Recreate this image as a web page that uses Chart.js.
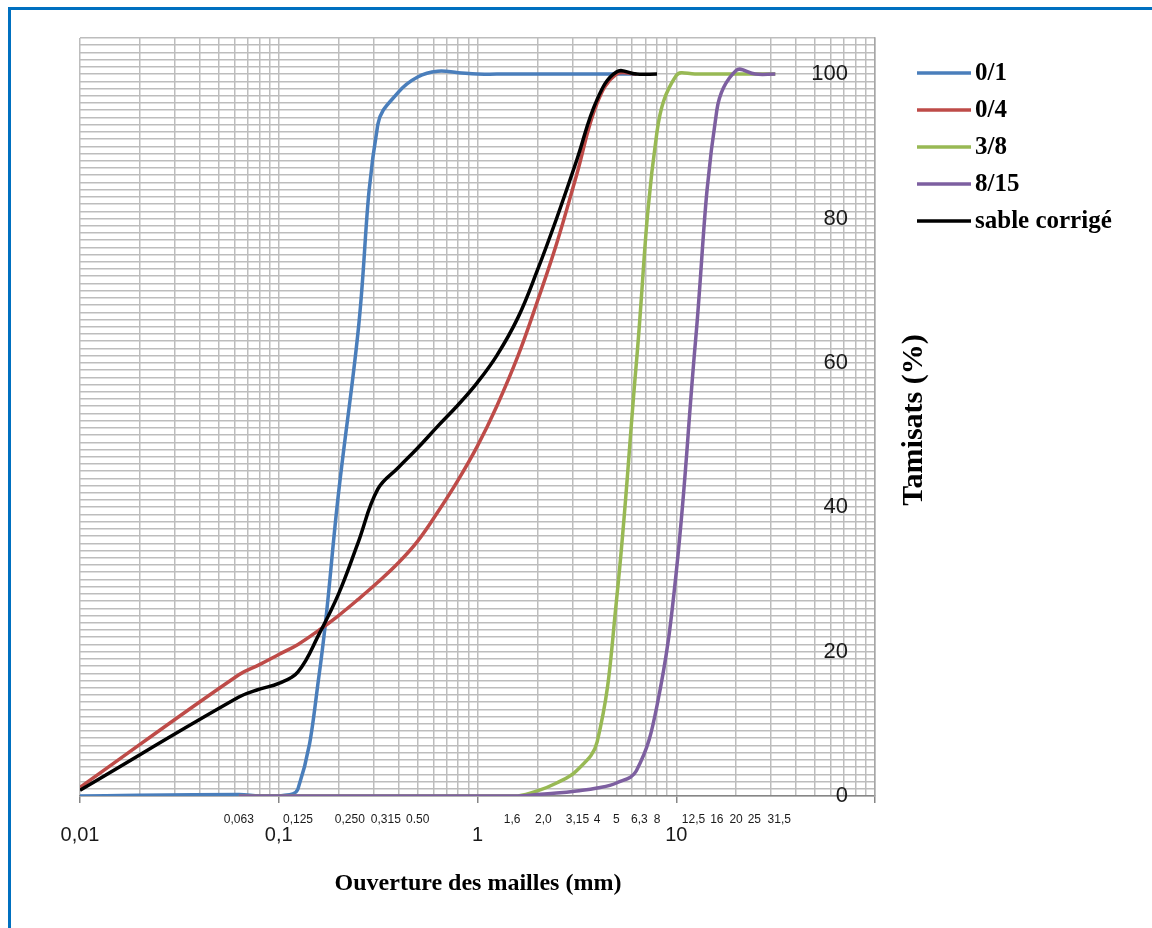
<!DOCTYPE html>
<html>
<head>
<meta charset="utf-8">
<script src="https://cdn.jsdelivr.net/npm/chart.js@4.4.0/dist/chart.umd.min.js"></script>
<style>
  html, body { margin: 0; padding: 0; background: #fff; }
  #wrap { width: 1152px; height: 928px; }
</style>
</head>
<body>
<div id="wrap"><canvas id="courbe" width="1152" height="928"></canvas></div>
<script>
// ouvertures des tamis (mm)
const tamis = [0.01, 0.063, 0.08, 0.1, 0.125, 0.16, 0.2, 0.25, 0.315, 0.4, 0.5, 0.63, 0.8, 1,
               1.25, 1.6, 2, 2.5, 3.15, 4, 5, 6.3, 8, 10, 12.5, 16, 20, 25, 31.5];

// tamisats cumulés (%) par classe granulaire, null = pas de mesure
const sable01 = [0, 0.2, 0, 0, 1, 17, 42, 64, 93, 97.5, 99.6, 100.4, 100.2, 100,
                 100, 100, 100, 100, 100, 100, 100, 100, null, null, null, null, null, null, null];
const sable04 = [1.2, 16.8, 18.2, 19.6, 21, 23, 25, 27.2, 29.6, 32.3, 35.3, 39.3, 43.8, 48.5,
                 54, 61, 68.5, 76.5, 86, 96, 100, 100, null, null, null, null, null, null, null];
const gravier38 = [null, 0, 0, 0, 0, 0, 0, 0, 0, 0, 0, 0, 0, 0,
                   0, 0, 0.7, 1.8, 3.5, 7.5, 27, 60, 92, 99.8, 100, 100, 100, 100, 100];
const gravier815 = [null, 0, 0, 0, 0, 0, 0, 0, 0, 0, 0, 0, 0, 0,
                    0, 0, 0.2, 0.4, 0.7, 1.1, 1.8, 3.5, 12.5, 31, 63, 95, 100.5, 100, 100];
const sableCorrige = [0.8, 13.7, 14.8, 15.6, 17.2, 22.5, 28, 35, 42.5, 45.5, 48.2, 51.2, 54.2, 57.3,
                      61, 66.3, 72.8, 80, 88, 96.5, 100.3, 100, 100, null, null, null, null, null, null];

const series = ['0/1', '0/4', '3/8', '8/15', 'sable corrigé'];
const couleurs = ['#4A7EBB', '#BE4B48', '#98B954', '#7D5FA0', '#000000'];
const valeurs = [sable01, sable04, gravier38, gravier815, sableCorrige];

// graduations de l'axe des abscisses
const decades = [0.01, 0.1, 1, 10];
const decadeLabels = ['0,01', '0,1', '1', '10'];
const xMax = 100;
// ouvertures normalisées écrites sous l'axe
const tamisNoms = ['0,063', '0,125', '0,250', '0,315', '0.50', '1,6', '2,0', '3,15', '4', '5',
                   '6,3', '8', '12,5', '16', '20', '25', '31,5'];
const tamisPos = [0.063, 0.125, 0.25, 0.315, 0.5, 1.6, 2, 3.15, 4, 5, 6.3, 8, 12.5, 16, 20, 25, 31.5];

// graduations de l'axe des ordonnées
const yMin = 0, yMax = 105, yPas = 1, yLabelPas = 20;

// petits decalages pour que les noms ne se chevauchent pas
const decalageNoms = { '0,250': -8, '0,315': 8, '1,6': -6, '2,0': 6, '3,15': 1, '6,3': 3,
                       '12,5': -2, '25': -1, '31,5': 4 };

const datasets = series.map((nom, i) => ({
    label: nom,
    data: tamis.map((t, j) => ({ x: t, y: valeurs[i][j] })),
    borderColor: couleurs[i],
    backgroundColor: couleurs[i],
    borderWidth: 3.5,
    pointRadius: 0,
    tension: 0.4,
    fill: false,
    order: series.length - 1 - i
}));

// Cadre bleu, titres, légende, noms des tamis
const decorPlugin = {
    id: 'decor',
    beforeDraw(chart) {
        const c = chart.ctx;
        c.save();
        c.fillStyle = '#fff';
        c.fillRect(0, 0, chart.width, chart.height);
        c.fillStyle = '#0070C0';
        c.fillRect(8, 7, chart.width - 8, 3);
        c.fillRect(8, 7, 3, chart.height - 7);
        c.restore();
    },
    afterDraw(chart) {
        const c = chart.ctx;
        const xs = chart.scales.x;
        const area = chart.chartArea;
        c.save();
        // noms des tamis
        c.fillStyle = '#1a1a1a';
        c.font = '12px "Liberation Sans", Arial, sans-serif';
        c.textAlign = 'center';
        c.textBaseline = 'middle';
        tamisPos.forEach((v, i) => {
            const nom = tamisNoms[i];
            c.fillText(nom, xs.getPixelForValue(v) + (decalageNoms[nom] || 0), area.bottom + 24);
        });
        // titre axe x
        c.fillStyle = '#000';
        c.font = 'bold 24px "Liberation Serif", "Times New Roman", serif';
        c.fillText('Ouverture des mailles (mm)', 478, 884);
        // titre axe y
        c.save();
        c.translate(914, 420);
        c.rotate(-Math.PI / 2);
        c.font = 'bold 30px "Liberation Serif", "Times New Roman", serif';
        c.fillText('Tamisats (%)', 0, 0);
        c.restore();
        // légende
        c.textAlign = 'left';
        c.font = 'bold 25px "Liberation Serif", "Times New Roman", serif';
        chart.data.datasets.forEach((ds, i) => {
            const y = 73 + i * 37;
            c.strokeStyle = ds.borderColor;
            c.lineWidth = 3.5;
            c.beginPath();
            c.moveTo(917, y);
            c.lineTo(971, y);
            c.stroke();
            c.fillStyle = '#000';
            c.fillText(ds.label, 975, y + 1);
        });
        c.restore();
    }
};

new Chart(document.getElementById('courbe'), {
    type: 'line',
    data: { datasets: datasets },
    options: {
        responsive: false,
        animation: false,
        events: [],
        layout: { padding: { left: 80, top: 38, right: 0, bottom: 0 } },
        plugins: { legend: { display: false }, tooltip: { enabled: false } },
        scales: {
            x: {
                type: 'logarithmic',
                min: decades[0],
                max: xMax,
                afterBuildTicks(scale) {
                    const ticks = [];
                    decades.forEach((d, k) => {
                        for (let m = 1; m <= 9; m++) {
                            ticks.push({ value: d * m, major: m === 1, txt: m === 1 ? decadeLabels[k] : '' });
                        }
                    });
                    ticks.push({ value: xMax, major: true, txt: '' });
                    scale.ticks = ticks;
                },
                afterFit(scale) { scale.height = 132; },
                grid: {
                    color: '#bdbdbd',
                    lineWidth: 1.5,
                    tickLength: 7,
                    tickColor: ctx => (ctx.tick && ctx.tick.major ? '#868686' : 'rgba(0,0,0,0)')
                },
                border: { color: '#868686', width: 1.5 },
                ticks: {
                    autoSkip: false,
                    maxRotation: 0,
                    padding: 20,
                    color: '#1a1a1a',
                    font: { family: '"Liberation Sans", Arial, sans-serif', size: 20 },
                    callback: (v, i, ticks) => ticks[i].txt
                }
            },
            y: {
                type: 'linear',
                position: 'right',
                min: yMin,
                max: yMax,
                afterFit(scale) { scale.width = 277; },
                grid: { color: '#bdbdbd', lineWidth: 1.5, drawTicks: false },
                border: { color: '#a6a6a6', width: 1.5 },
                ticks: {
                    stepSize: yPas,
                    autoSkip: false,
                    mirror: true,
                    padding: -27,
                    color: '#1a1a1a',
                    font: { family: '"Liberation Sans", Arial, sans-serif', size: 22 },
                    callback: v => (v % yLabelPas === 0 ? String(v) : '')
                }
            }
        }
    },
    plugins: [decorPlugin]
});
</script>
</body>
</html>
